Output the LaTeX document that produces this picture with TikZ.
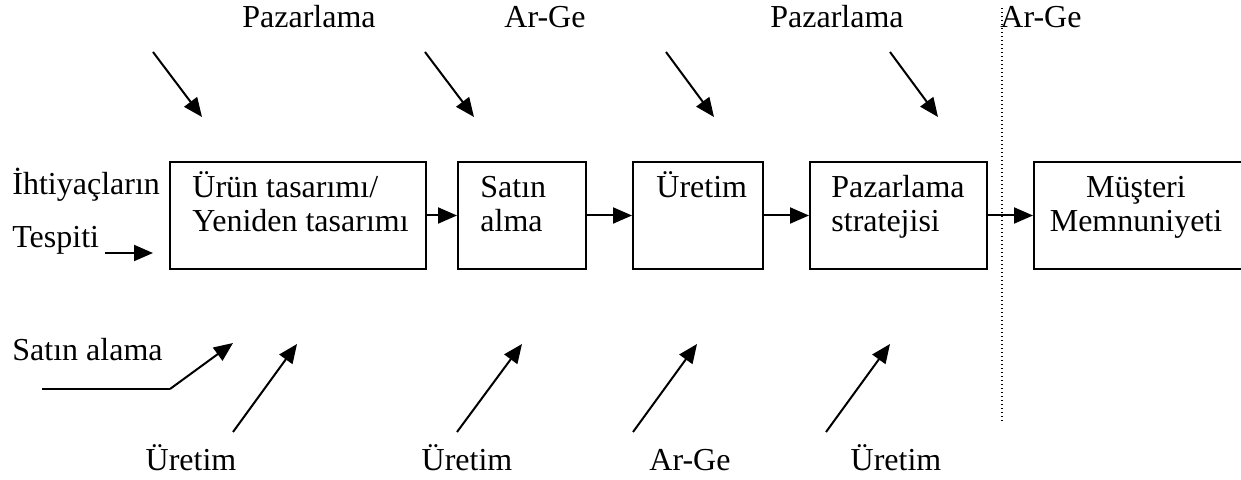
\documentclass[tikz,border=0pt]{standalone}
\usepackage{fontspec}
\setmainfont{Liberation Serif}
\usetikzlibrary{arrows.meta}
\begin{document}
\begin{tikzpicture}[x=0.5pt,y=-0.5pt,
  box/.style={draw,line width=1pt,rectangle,inner sep=0pt,minimum height=53.5pt},
  arr/.style={line width=1pt,-{Triangle[length=9.5pt,width=8pt]}},
  plain/.style={line width=1pt},
  txt/.style={anchor=base west,inner sep=0pt,font=\fontsize{16}{18}\selectfont},
  ctxt/.style={anchor=base,inner sep=0pt,font=\fontsize{16}{18}\selectfont},
  sep/.style={line width=0.6pt,dash pattern=on 0.6pt off 1.4pt}]
\useasboundingbox (0,0) rectangle (1241,480);
% boxes
\node[box,minimum width=128pt] (b1) at (298,215.5) {};
\node[box,minimum width=64pt] (b2) at (522,215.5) {};
\node[box,minimum width=65pt] (b3) at (698,215.5) {};
\node[box,minimum width=88.5pt] (b4) at (898.5,215.5) {};
\node[box,minimum width=108pt] (b5) at (1142,215.5) {};
% box texts
\node[txt] (b1a) at (192,198) {Ürün tasarımı/};
\node[txt] (b1b) at (192,232) {Yeniden tasarımı};
\node[txt] (b2a) at (480,198) {Satın};
\node[txt] (b2b) at (480,232) {alma};
\node[txt] (b3a) at (656,198) {Üretim};
\node[txt] (b4a) at (831,198) {Pazarlama};
\node[txt] (b4b) at (831,232) {stratejisi};
\node[ctxt] (b5a) at (1136,198) {Müşteri};
\node[ctxt] (b5b) at (1136,232) {Memnuniyeti};
% chain arrows
\draw[arr] (b1.east) -- (b2.west);
\draw[arr] (b2.east) -- (b3.west);
\draw[arr] (b3.east) -- (b4.west);
\draw[arr] (b4.east) -- (b5.west);
% dotted separator
\coordinate (s1) at (1002,8);
\coordinate (s2) at (1002,423);
\draw[sep] (s1) -- (s2);
% top labels
\node[ctxt] (tl1) at (309,28) {Pazarlama};
\node[ctxt] (tl2) at (545,28) {Ar-Ge};
\node[ctxt] (tl3) at (837,28) {Pazarlama};
\node[ctxt] (tl4) at (1041,28) {Ar-Ge};
% top arrows
\coordinate (ta1) at (153,52); \coordinate (tb1) at (202,117);
\coordinate (ta2) at (425,52); \coordinate (tb2) at (474,117);
\coordinate (ta3) at (666,52); \coordinate (tb3) at (714,117);
\coordinate (ta4) at (890,52); \coordinate (tb4) at (938,117);
\draw[arr] (ta1) -- (tb1);
\draw[arr] (ta2) -- (tb2);
\draw[arr] (ta3) -- (tb3);
\draw[arr] (ta4) -- (tb4);
% left labels
\node[txt] (l1) at (12,195) {İhtiyaçların};
\node[txt] (l2) at (12,248) {Tespiti};
\coordinate (la) at (105,253); \coordinate (lb) at (153,253);
\draw[arr] (la) -- (lb);
% Satın alama
\node[txt] (sa) at (12,360) {Satın alama};
\coordinate (sa1) at (42,389); \coordinate (sa2) at (170,389); \coordinate (sa3) at (233,343);
\draw[plain] (sa1) -- (sa2);
\draw[arr] (sa2) -- (sa3);
% bottom arrows
\coordinate (ba1) at (233,432); \coordinate (bb1) at (297,344);
\coordinate (ba2) at (457,432); \coordinate (bb2) at (522,344);
\coordinate (ba3) at (633,432); \coordinate (bb3) at (697,344);
\coordinate (ba4) at (826,432); \coordinate (bb4) at (890,344);
\draw[arr] (ba1) -- (bb1);
\draw[arr] (ba2) -- (bb2);
\draw[arr] (ba3) -- (bb3);
\draw[arr] (ba4) -- (bb4);
% bottom labels
\node[ctxt] (bl1) at (191,470) {Üretim};
\node[ctxt] (bl2) at (467,470) {Üretim};
\node[ctxt] (bl3) at (690,470) {Ar-Ge};
\node[ctxt] (bl4) at (896,470) {Üretim};
\end{tikzpicture}
\end{document}
